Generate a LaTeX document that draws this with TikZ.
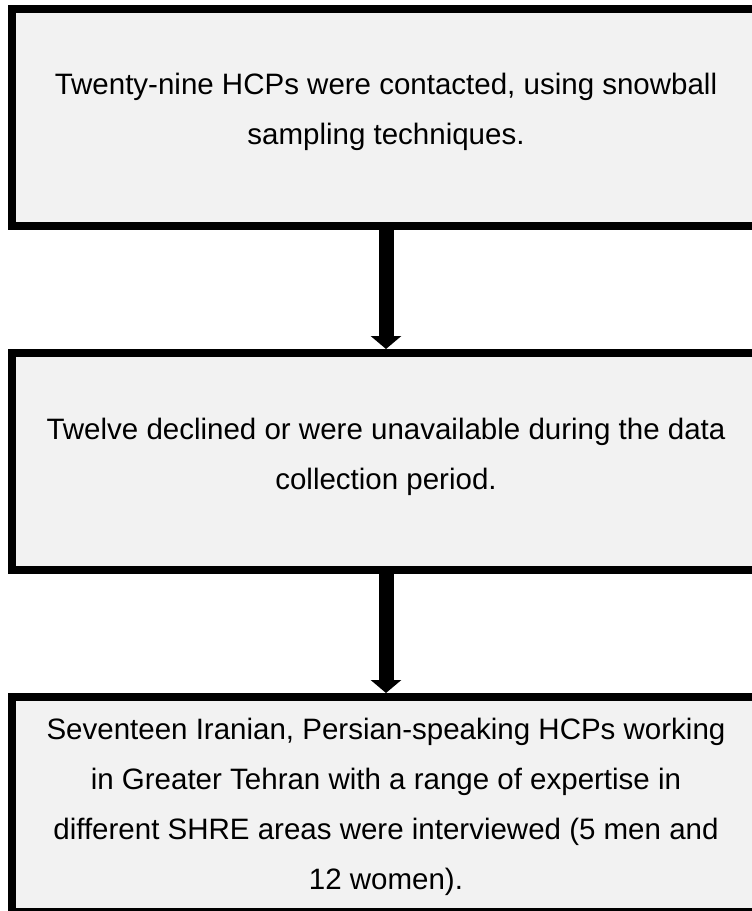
\documentclass[tikz,border=0pt]{standalone}
\usepackage{fontspec}
\setmainfont{Liberation Sans}
\usetikzlibrary{arrows.meta}
\definecolor{boxfill}{HTML}{F2F2F2}
\tikzset{
  flowbox/.style={draw=black, fill=boxfill, line width=8pt, rectangle, inner sep=0pt, minimum width=748pt},
  flowtext/.style={align=center, inner sep=0pt, anchor=base, font=\fontsize{29.5}{50}\selectfont},
  flowarrow/.style={line width=15pt, -{Triangle[width=30pt,length=13pt]}}
}
\begin{document}
\begin{tikzpicture}[x=1pt,y=-1pt]
\useasboundingbox (0,0) rectangle (752,911);
\fill[white] (0,0) rectangle (752,911);
\node[flowbox, minimum height=217pt] (b1) at (386,117.5) {};
\node[flowbox, minimum height=217pt] (b2) at (386,461.5) {};
\node[flowbox, minimum height=215pt] (b3) at (386,804.5) {};
\node[flowtext] (t1) at (386,144) {Twenty-nine HCPs were contacted, using snowball\\sampling techniques.};
\node[flowtext] (t2) at (386,489) {Twelve declined or were unavailable during the data\\collection period.};
\node[flowtext] (t3) at (386,889) {Seventeen Iranian, Persian-speaking HCPs working\\in Greater Tehran with a range of expertise in\\different SHRE areas were interviewed (5 men and\\12 women).};
\draw[flowarrow] (b1.south) -- (b2.north);
\draw[flowarrow] (b2.south) -- (b3.north);
\end{tikzpicture}
\end{document}
